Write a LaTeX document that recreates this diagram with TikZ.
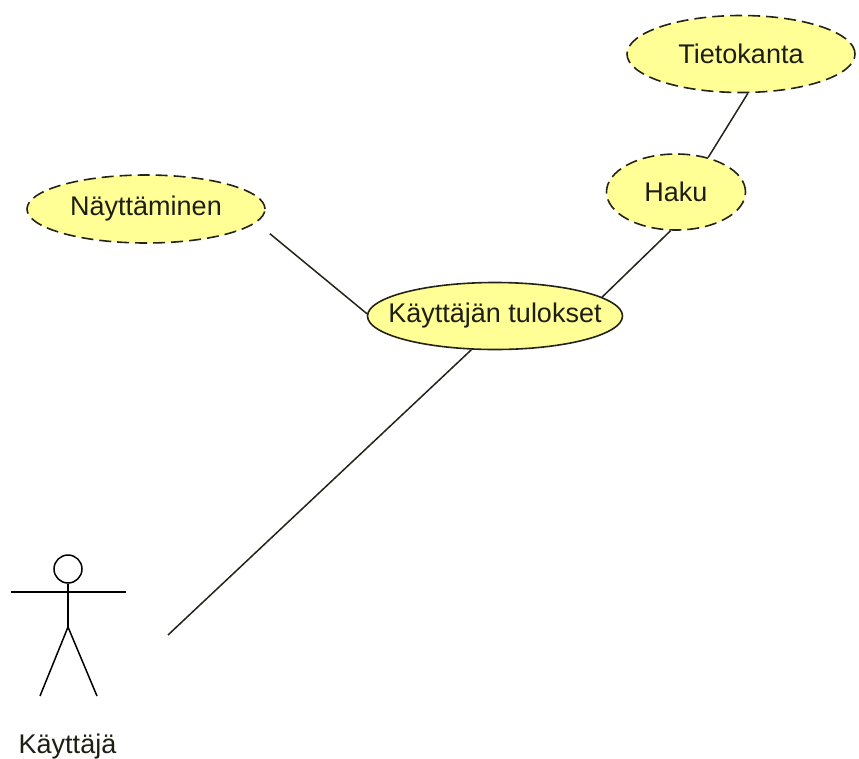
\documentclass[tikz,border=0pt]{standalone}
\usepackage{fontspec}
\setmainfont{Liberation Sans}
\usetikzlibrary{shapes.geometric}
\definecolor{ucfill}{RGB}{255,255,150}
\definecolor{ucdraw}{RGB}{35,35,25}
\definecolor{txt}{RGB}{30,30,20}
\newcommand{\ztext}[1]{\makebox[0pt]{#1}}
\tikzset{
  uc/.style={ellipse, draw=ucdraw, fill=ucfill, line width=1.6pt, inner sep=0pt, text=txt,
    font=\fontsize{27}{30}\selectfont},
  ucdash/.style={uc, dash pattern=on 12pt off 6pt},
  link/.style={draw=ucdraw, line width=1.5pt},
  stick/.style={draw=black, line width=1.5pt}
}
\begin{document}
\begin{tikzpicture}[x=1pt,y=1pt]
\useasboundingbox (0,0) rectangle (859,-758);
% use cases
\node[uc, minimum width=255, minimum height=67] (k) at (495,-316) {\ztext{Käyttäjän tulokset}};
\node[ucdash, minimum width=228, minimum height=77] (t) at (741,-54) {\ztext{Tietokanta}};
\node[ucdash, minimum width=139, minimum height=76] (h) at (676,-192) {\ztext{Haku}};
\node[ucdash, minimum width=238, minimum height=68] (n) at (146,-209) {\ztext{Näyttäminen}};
% actor
\node[circle, stick, minimum size=28, inner sep=0pt] (head) at (68,-569) {};
\coordinate (hip) at (68,-627);
\coordinate (larm) at (11,-592);
\coordinate (rarm) at (126,-592);
\coordinate (lfoot) at (40,-696);
\coordinate (rfoot) at (97,-696);
\draw[stick] (head.south) -- (hip);
\draw[stick] (larm) -- (rarm);
\draw[stick] (lfoot) -- (hip) -- (rfoot);
\node[anchor=base, text=txt, font=\fontsize{27}{30}\selectfont, inner sep=0pt] (alabel) at (67.5,-753) {Käyttäjä};
\coordinate (actorlink) at (168,-635);
% connectors
\draw[link, shorten <=17.5pt] (n.-7.4) -- (k.179);
\draw[link] (k.10) -- (h.262);
\draw[link] (h.47) -- (t.280);
\draw[link] (k.235) -- (actorlink);
\end{tikzpicture}
\end{document}
